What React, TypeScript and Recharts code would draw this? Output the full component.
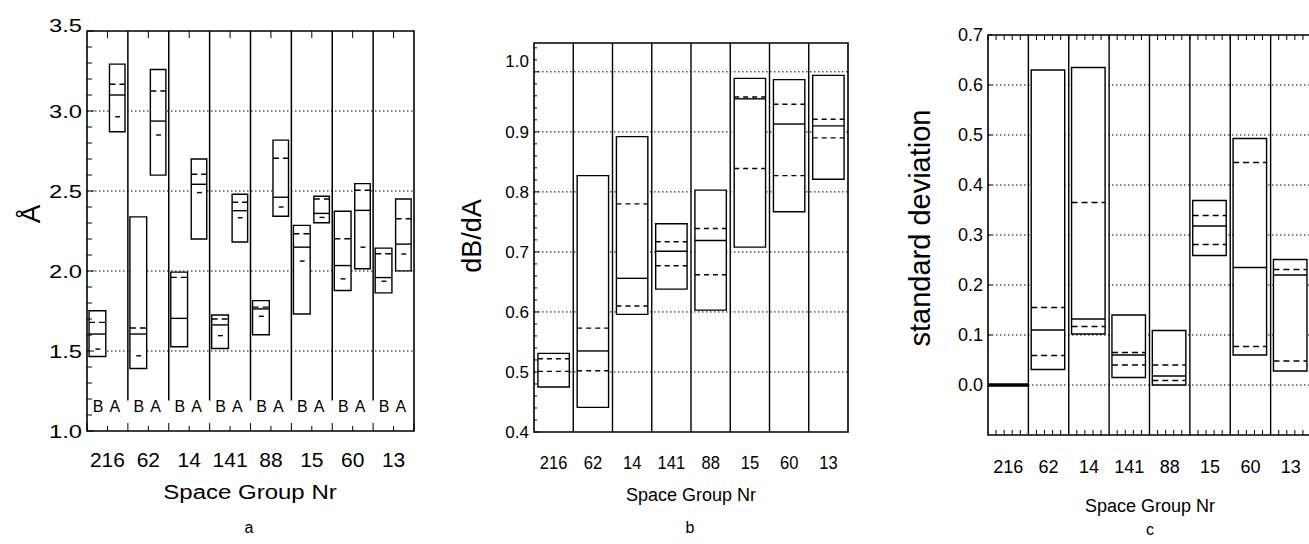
import {
  CartesianGrid,
  ComposedChart,
  ReferenceArea,
  ReferenceDot,
  ReferenceLine,
  Scatter,
  XAxis,
  YAxis,
} from "recharts";

const FONT = "'Liberation Sans', Arial, Helvetica, sans-serif";
const INK = "#000";

const GROUPS = ["216", "62", "14", "141", "88", "15", "60", "13"];

// a: distances, one box for the B site and one for the A site of each group
const A_TICKS = [1.0, 1.5, 2.0, 2.5, 3.0, 3.5];
const A_GRID = [1.5, 2.0, 2.5, 3.0];
const B_SITE_LOW = [1.466, 1.391, 1.527, 1.516, 1.602, 1.731, 1.878, 1.863];
const B_SITE_HIGH = [1.752, 2.338, 1.993, 1.725, 1.815, 2.285, 2.373, 2.143];
const B_SITE_MED = [1.606, 1.606, 1.704, 1.663, 1.763, 2.149, 2.034, 1.959];
const B_SITE_MEAN = [1.679, 1.644, 1.96, 1.7, 1.774, 2.233, 2.202, 2.108];
const B_SITE_DASH = [1.512, 1.47, null, 1.596, 1.717, 2.062, 1.951, 1.936];
const A_SITE_LOW = [2.87, 2.599, 2.2, 2.181, 2.342, 2.302, 2.014, 2.001];
const A_SITE_HIGH = [3.293, 3.259, 2.7, 2.48, 2.818, 2.467, 2.546, 2.45];
const A_SITE_MED = [3.1, 2.937, 2.542, 2.377, 2.461, 2.36, 2.379, 2.168];
const A_SITE_MEAN = [3.167, 3.125, 2.605, 2.43, 2.705, 2.45, 2.505, 2.327];
const A_SITE_DASH = [2.964, 2.85, 2.49, 2.333, 2.4, 2.335, 2.149, 2.106];
const SITE_LABELS = ["B", "A"];

// b: dB/dA
const DB_TICKS = [0.4, 0.5, 0.6, 0.7, 0.8, 0.9, 1.0];
const DB_GRID = [0.5, 0.6, 0.7, 0.8, 0.9, 1.0];
const DB_LOW = [0.475, 0.441, 0.596, 0.638, 0.603, 0.708, 0.767, 0.821];
const DB_HIGH = [0.531, 0.827, 0.892, 0.747, 0.803, 0.989, 0.987, 0.994];
const DB_MED = [null, 0.535, 0.656, 0.701, 0.719, 0.955, 0.913, 0.91];
const DB_UPPER = [0.522, 0.573, 0.78, 0.717, 0.739, 0.958, 0.946, 0.921];
const DB_LOWER = [0.501, 0.502, 0.61, 0.677, 0.662, 0.839, 0.827, 0.89];

// c: standard deviation
const SD_TICKS = [0.0, 0.1, 0.2, 0.3, 0.4, 0.5, 0.6, 0.7];
const SD_GRID = [0.0, 0.1, 0.2, 0.3, 0.4, 0.5, 0.6];
const SD_LOW = [0, 0.031, 0.102, 0.015, 0.0, 0.259, 0.06, 0.028];
const SD_HIGH = [0, 0.63, 0.635, 0.14, 0.109, 0.369, 0.493, 0.251];
const SD_MED = [0, 0.11, 0.132, 0.06, 0.018, 0.318, 0.235, 0.22];
const SD_UPPER = [null, 0.155, 0.365, 0.065, 0.04, 0.339, 0.445, 0.231];
const SD_LOWER = [null, 0.059, 0.117, 0.04, 0.009, 0.281, 0.077, 0.048];

function steps(from: number, to: number, step: number) {
  const out: number[] = [];
  for (let i = 0; from + i * step <= to + 1e-9; i++) out.push(+(from + i * step).toFixed(3));
  return out;
}

const near = (list: number[], v: number) => list.some((m) => Math.abs(m - v) < 1e-6);
const isCenter = (v: number) => Math.abs(v - Math.floor(v) - 0.5) < 1e-6;

function YTick(props: any) {
  const { x, y, payload, major, fontSize, minorLen, majorLen, stretch = 1, raiseTop = 0 } = props;
  const v = payload.value as number;
  const big = near(major, v);
  const lift = Math.abs(v - major[major.length - 1]) < 1e-6 ? raiseTop : 0;
  return (
    <g>
      <line x1={x} x2={x + (big ? majorLen : minorLen)} y1={y} y2={y} stroke={INK} />
      {big && (
        <text
          transform={`translate(${x - 5},${y - lift}) scale(${stretch},1)`}
          dy="0.36em"
          textAnchor="end"
          fontSize={fontSize}
          fontFamily={FONT}
          fill={INK}
        >
          {v.toFixed(1)}
        </text>
      )}
    </g>
  );
}

// bottom axis tick: inward tick line, group label at column middles, and the
// matching tick hanging from the top frame (topY is the chart's top margin)
function BottomTick(props: any) {
  const { x, y, payload, fontSize, baseline, lineLen, sepLen, lineOnCenter, stretch = 1, topY, topLen = 0, topOn } = props;
  const v = payload.value as number;
  const center = isCenter(v);
  const len = center ? (lineOnCenter ? lineLen : 0) : Number.isInteger(v) ? sepLen : lineLen;
  const showTop = topLen > 0 && topOn && near(topOn, v);
  return (
    <g>
      {len > 0 && <line x1={x} x2={x} y1={y} y2={y - len} stroke={INK} />}
      {showTop && <line x1={x} x2={x} y1={topY} y2={topY + topLen} stroke={INK} />}
      {center && (
        <text
          transform={`translate(${x},${y + baseline}) scale(${stretch},1)`}
          textAnchor="middle"
          fontSize={fontSize}
          fontFamily={FONT}
          fill={INK}
        >
          {GROUPS[Math.floor(v)]}
        </text>
      )}
    </g>
  );
}

type Box = {
  id: string;
  x1: number;
  x2: number;
  low: number;
  high: number;
  med: number | null;
  upper: number | null;
  lower: number | null;
  shortLower?: boolean;
  dash: string;
};

const LW = 1.4;

function boxMarks(b: Box) {
  const out = [];
  if (b.low === b.high) {
    out.push(
      <ReferenceLine
        key={b.id + "flat"}
        segment={[{ x: b.x1, y: b.low }, { x: b.x2, y: b.low }]}
        stroke={INK}
        strokeWidth={3.5}
      />,
    );
    return out;
  }
  out.push(
    <ReferenceArea
      key={b.id + "box"}
      x1={b.x1}
      x2={b.x2}
      y1={b.low}
      y2={b.high}
      fill="#fff"
      fillOpacity={1}
      stroke={INK}
      strokeWidth={LW}
    />,
  );
  if (b.med != null)
    out.push(
      <ReferenceLine
        key={b.id + "med"}
        segment={[{ x: b.x1, y: b.med }, { x: b.x2, y: b.med }]}
        stroke={INK}
        strokeWidth={LW}
      />,
    );
  if (b.upper != null)
    out.push(
      <ReferenceLine
        key={b.id + "up"}
        segment={[{ x: b.x1, y: b.upper }, { x: b.x2, y: b.upper }]}
        stroke={INK}
        strokeWidth={LW}
        strokeDasharray={b.dash}
      />,
    );
  if (b.lower != null) {
    const mid = (b.x1 + b.x2) / 2;
    const seg = b.shortLower
      ? [{ x: mid - 0.05, y: b.lower }, { x: mid + 0.07, y: b.lower }]
      : [{ x: b.x1, y: b.lower }, { x: b.x2, y: b.lower }];
    out.push(
      <ReferenceLine
        key={b.id + "lo"}
        segment={seg}
        stroke={INK}
        strokeWidth={LW}
        strokeDasharray={b.shortLower ? undefined : b.dash}
      />,
    );
  }
  return out;
}

const HALF_TICKS = steps(0, 8, 0.5);
const CENTERS = steps(0.5, 7.5, 1);
const FIFTHS = steps(0, 8, 0.2);
const FIFTH_TICKS = [...FIFTHS, ...CENTERS].sort((p, q) => p - q);
const SEPARATORS = [1, 2, 3, 4, 5, 6, 7];

// one row per space group, placed at the middle of its column
const rows = (mids: (number | null)[]) => GROUPS.map((g, i) => ({ group: g, x: i + 0.5, mid: mids[i] }));

const noShape = () => <g />;

function Caption({ x, y, size, rotate, stretch = 1, children }: any) {
  return (
    <div
      style={{
        position: "absolute",
        left: x,
        top: y,
        transform: `translate(-50%, -50%)${rotate ? " rotate(-90deg)" : ""} scaleX(${stretch})`,
        fontFamily: FONT,
        fontSize: size,
        color: INK,
        whiteSpace: "nowrap",
        lineHeight: 1,
      }}
    >
      {children}
    </div>
  );
}

const A_MARGIN = { top: 31, right: 26, bottom: 73, left: 27 };
const B_MARGIN = { top: 43, right: 22, bottom: 72, left: 34 };
const C_MARGIN = { top: 35, right: 4, bottom: 69, left: 58 };

function PanelA() {
  const boxes = GROUPS.flatMap((g, i) => [
    ...boxMarks({
      id: "aB" + g,
      x1: i + 0.05,
      x2: i + 0.46,
      low: B_SITE_LOW[i],
      high: B_SITE_HIGH[i],
      med: B_SITE_MED[i],
      upper: B_SITE_MEAN[i],
      lower: B_SITE_DASH[i],
      shortLower: true,
      dash: "6 4",
    }),
    ...boxMarks({
      id: "aA" + g,
      x1: i + 0.55,
      x2: i + 0.93,
      low: A_SITE_LOW[i],
      high: A_SITE_HIGH[i],
      med: A_SITE_MED[i],
      upper: A_SITE_MEAN[i],
      lower: A_SITE_DASH[i],
      shortLower: true,
      dash: "6 4",
    }),
  ]);
  const siteLabels = GROUPS.flatMap((g, i) =>
    SITE_LABELS.map((s, k) => (
      <ReferenceDot
        key={g + s}
        x={i + (k === 0 ? 0.27 : 0.68)}
        y={1.155}
        r={0}
        fill="none"
        stroke="none"
        label={{ value: s, position: "center", fontSize: 16, fill: INK, fontFamily: FONT }}
      />
    )),
  );
  return (
    <ComposedChart width={440} height={544} data={rows(B_SITE_MED)} margin={A_MARGIN}>
      <CartesianGrid horizontal vertical={false} horizontalValues={A_GRID} syncWithTicks={false} stroke={INK} strokeDasharray="1.5 2.5" />
      <XAxis
        dataKey="x"
        type="number"
        domain={[0, 8]}
        ticks={HALF_TICKS}
        interval={0}
        height={40}
        axisLine={false}
        tickLine={false}
        tickSize={0}
        tickMargin={0}
        allowDataOverflow
        tick={(p: any) => (
          <BottomTick
            {...p}
            fontSize={20}
            baseline={36}
            lineLen={5}
            sepLen={8}
            lineOnCenter
            stretch={1.05}
            topY={A_MARGIN.top}
            topLen={7}
            topOn={CENTERS}
          />
        )}
      />
      <YAxis
        type="number"
        domain={[1, 3.5]}
        ticks={steps(1, 3.5, 0.1)}
        interval={0}
        width={60}
        axisLine={false}
        tickLine={false}
        tickSize={0}
        tickMargin={0}
        allowDataOverflow
        tick={(p: any) => <YTick {...p} major={A_TICKS} fontSize={19} minorLen={5} majorLen={7} stretch={1.25} raiseTop={6} />}
      />
      <Scatter dataKey="mid" shape={noShape} isAnimationActive={false} />
      {SEPARATORS.map((s) => (
        <ReferenceLine key={"sep" + s} segment={[{ x: s, y: 1.19 }, { x: s, y: 3.5 }]} stroke={INK} strokeWidth={1.5} />
      ))}
      {boxes}
      {siteLabels}
      <ReferenceArea x1={0} x2={8} y1={1} y2={3.5} fill="none" stroke={INK} strokeWidth={1.6} />
    </ComposedChart>
  );
}

function PanelB() {
  const boxes = GROUPS.flatMap((g, i) =>
    boxMarks({
      id: "b" + g,
      x1: i + 0.1,
      x2: i + 0.9,
      low: DB_LOW[i],
      high: DB_HIGH[i],
      med: DB_MED[i],
      upper: DB_UPPER[i],
      lower: DB_LOWER[i],
      dash: "5 4",
    }),
  );
  return (
    <ComposedChart width={430} height={544} data={rows(DB_UPPER)} margin={B_MARGIN}>
      <CartesianGrid horizontal vertical={false} horizontalValues={DB_GRID} syncWithTicks={false} stroke={INK} strokeDasharray="1.5 2.5" />
      <XAxis
        dataKey="x"
        type="number"
        domain={[0, 8]}
        ticks={CENTERS}
        interval={0}
        height={40}
        axisLine={false}
        tickLine={false}
        tickSize={0}
        tickMargin={0}
        allowDataOverflow
        tick={(p: any) => <BottomTick {...p} fontSize={18} baseline={37} lineLen={0} sepLen={0} stretch={0.92} />}
      />
      <YAxis
        type="number"
        domain={[0.4, 1.048]}
        ticks={steps(0.4, 1.04, 0.02)}
        interval={0}
        width={60}
        axisLine={false}
        tickLine={false}
        tickSize={0}
        tickMargin={0}
        allowDataOverflow
        tick={(p: any) => <YTick {...p} major={DB_TICKS} fontSize={17} minorLen={3} majorLen={5} raiseTop={11} />}
      />
      <Scatter dataKey="mid" shape={noShape} isAnimationActive={false} />
      {SEPARATORS.map((s) => (
        <ReferenceLine key={"sep" + s} x={s} stroke={INK} strokeWidth={1.4} />
      ))}
      {boxes}
      <ReferenceArea x1={0} x2={8} y1={0.4} y2={1.048} fill="none" stroke={INK} strokeWidth={1.6} />
    </ComposedChart>
  );
}

function PanelC() {
  const boxes = GROUPS.flatMap((g, i) =>
    boxMarks({
      id: "c" + g,
      x1: SD_LOW[i] === SD_HIGH[i] ? i : i + 0.07,
      x2: SD_LOW[i] === SD_HIGH[i] ? i + 1 : i + 0.9,
      low: SD_LOW[i],
      high: SD_HIGH[i],
      med: SD_MED[i],
      upper: SD_UPPER[i],
      lower: SD_LOWER[i],
      dash: "6 4",
    }),
  );
  return (
    <ComposedChart width={445} height={544} data={rows(SD_MED)} margin={C_MARGIN}>
      <CartesianGrid horizontal vertical={false} horizontalValues={SD_GRID} syncWithTicks={false} stroke={INK} strokeDasharray="1.5 2.5" />
      <XAxis
        dataKey="x"
        type="number"
        domain={[0, 8]}
        ticks={FIFTH_TICKS}
        interval={0}
        height={40}
        axisLine={false}
        tickLine={false}
        tickSize={0}
        tickMargin={0}
        allowDataOverflow
        tick={(p: any) => (
          <BottomTick
            {...p}
            fontSize={18}
            baseline={38}
            lineLen={5}
            sepLen={0}
            topY={C_MARGIN.top}
            topLen={5}
            topOn={FIFTHS}
          />
        )}
      />
      <YAxis
        type="number"
        domain={[-0.1, 0.7]}
        ticks={SD_TICKS}
        interval={0}
        width={60}
        axisLine={false}
        tickLine={false}
        tickSize={0}
        tickMargin={0}
        allowDataOverflow
        tick={(p: any) => <YTick {...p} major={SD_TICKS} fontSize={18} minorLen={4} majorLen={4} />}
      />
      <Scatter dataKey="mid" shape={noShape} isAnimationActive={false} />
      {SEPARATORS.map((s) => (
        <ReferenceLine key={"sep" + s} x={s} stroke={INK} strokeWidth={1.4} />
      ))}
      {boxes}
      <ReferenceArea x1={0} x2={8} y1={-0.1} y2={0.7} fill="none" stroke={INK} strokeWidth={1.6} />
    </ComposedChart>
  );
}

export default function App() {
  return (
    <div
      style={{
        position: "absolute",
        left: 0,
        top: 0,
        width: 1309,
        height: 544,
        overflow: "hidden",
        background: "#fff",
      }}
    >
      <div style={{ position: "absolute", left: 0, top: 0 }}>
        <PanelA />
      </div>
      <div style={{ position: "absolute", left: 440, top: 0 }}>
        <PanelB />
      </div>
      <div style={{ position: "absolute", left: 870, top: 0 }}>
        <PanelC />
      </div>

      <Caption x={31} y={214} size={28} rotate>
        Å
      </Caption>
      <Caption x={250} y={492} size={20} stretch={1.2}>
        Space Group Nr
      </Caption>
      <Caption x={249} y={528} size={16}>
        a
      </Caption>

      <Caption x={472} y={236} size={27} rotate>
        dB/dA
      </Caption>
      <Caption x={691} y={495} size={18}>
        Space Group Nr
      </Caption>
      <Caption x={690} y={528} size={16}>
        b
      </Caption>

      <Caption x={920} y={228} size={29} rotate>
        standard deviation
      </Caption>
      <Caption x={1150} y={506} size={18}>
        Space Group Nr
      </Caption>
      <Caption x={1150} y={530} size={16}>
        c
      </Caption>
    </div>
  );
}
